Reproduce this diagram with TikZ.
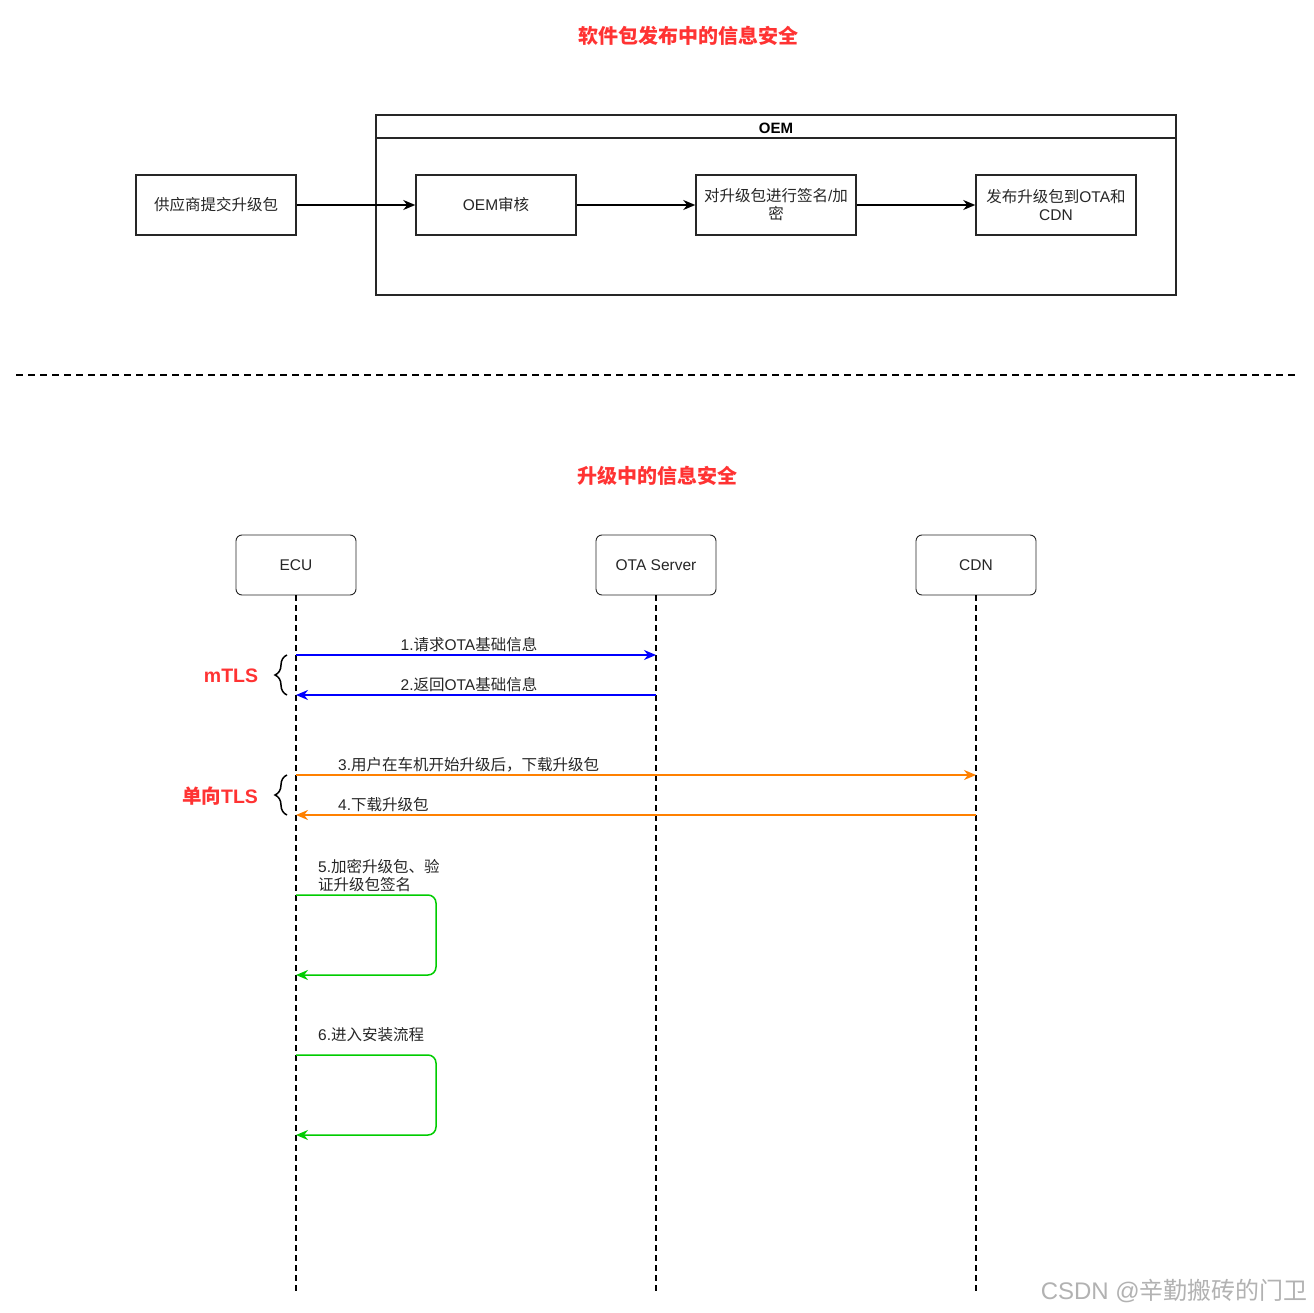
\documentclass[tikz,border=0pt]{standalone}
\usepackage{fontspec}
\setmainfont{Liberation Sans}
\newfontfamily\cjk{Noto Sans CJK SC}
\usetikzlibrary{arrows.meta,decorations.pathreplacing}
\definecolor{tred}{HTML}{FF3333}
\definecolor{mblue}{HTML}{0000FF}
\definecolor{morange}{HTML}{FF8000}
\definecolor{mgreen}{HTML}{00CC00}
\begin{document}
\begin{tikzpicture}[x=1pt,y=-1pt,
  txt/.style={font=\fontsize{15.5}{18}\selectfont, text=black!85},
  procbox/.style={draw=black!85, line width=1.5pt, minimum width=160pt, minimum height=60pt, inner sep=1pt, align=center, txt, text width=156pt},
  lifebox/.style={draw=black!85, line width=0.9pt, rounded corners=6pt, minimum width=120pt, minimum height=60pt, txt},
  flowarrow/.style={line width=1.5pt, draw=black, -{Stealth[length=12pt,width=10pt]}},
  lifeline/.style={line width=1.4pt, dash pattern=on 6pt off 4pt, draw=black},
  msg/.style={line width=1.5pt, -{Stealth[length=12pt,width=10pt]}},
  title/.style={font=\cjk\bfseries\fontsize{20}{24}\selectfont, text=tred},
  tlslabel/.style={font=\bfseries\fontsize{19.5}{23}\selectfont, text=tred},
  mlabel/.style={txt, inner sep=0pt},
  bracestyle/.style={line width=1.5pt, decorate, decoration={brace, amplitude=12pt}}
]
\useasboundingbox (0,0) rectangle (1314,1313);
\fill[white] (0,0) rectangle (1314,1313);

% ---------- top part ----------
\node[title] (t1) at (688,36) {软件包发布中的信息安全};

\draw[black!85, line width=1.5pt] (376,115) rectangle (1176,295);
\draw[black!85, line width=1.5pt] (376,138) -- (1176,138);
\node[font=\bfseries\fontsize{15}{17}\selectfont] (oem) at (776,128) {OEM};

\node[procbox] (sup) at (216,205) {{\cjk 供应商提交升级包}};
\node[procbox] (rev) at (496,205) {OEM{\cjk 审核}};
\node[procbox] (sign) at (776,205) {{\cjk 对升级包进行签名}/{\cjk 加}\\{\cjk 密}};
\node[procbox] (pub) at (1056,205) {{\cjk 发布升级包到}OTA{\cjk 和}\\CDN};

\draw[flowarrow] (sup) -- (rev);
\draw[flowarrow] (rev) -- (sign);
\draw[flowarrow] (sign) -- (pub);

% separator
\coordinate (sepL) at (16,375);
\coordinate (sepR) at (1298,375);
\draw[line width=2pt, dash pattern=on 7pt off 5pt] (sepL) -- (sepR);

% ---------- bottom part ----------
\node[title] (t2) at (657,476) {升级中的信息安全};

\node[lifebox] (ecu) at (296,565) {ECU};
\node[lifebox] (ota) at (656,565) {OTA Server};
\node[lifebox] (cdn) at (976,565) {CDN};

\coordinate (ecuEnd) at (296,1295);
\coordinate (otaEnd) at (656,1295);
\coordinate (cdnEnd) at (976,1295);
\draw[lifeline] (ecu.south) -- (ecuEnd);
\draw[lifeline] (ota.south) -- (otaEnd);
\draw[lifeline] (cdn.south) -- (cdnEnd);

% messages 1,2
\coordinate (e1) at (296,655); \coordinate (o1) at (656,655);
\coordinate (e2) at (296,695); \coordinate (o2) at (656,695);
\draw[msg, mblue] (e1) -- (o1);
\draw[msg, mblue] (o2) -- (e2);
\node[mlabel] (l1) at (469,645) {1.{\cjk 请求}OTA{\cjk 基础信息}};
\node[mlabel] (l2) at (469,685) {2.{\cjk 返回}OTA{\cjk 基础信息}};

% messages 3,4
\coordinate (e3) at (296,775); \coordinate (c3) at (976,775);
\coordinate (e4) at (296,815); \coordinate (c4) at (976,815);
\draw[msg, morange] (e3) -- (c3);
\draw[msg, morange] (c4) -- (e4);
\node[mlabel, anchor=west] (l3) at (338,765) {3.{\cjk 用户在车机开始升级后，下载升级包}};
\node[mlabel, anchor=west] (l4) at (338,805) {4.{\cjk 下载升级包}};

% braces
\coordinate (b1a) at (287,695); \coordinate (b1b) at (287,655);
\coordinate (b2a) at (287,815); \coordinate (b2b) at (287,775);
\draw[bracestyle] (b1a) -- (b1b);
\draw[bracestyle] (b2a) -- (b2b);
\node[tlslabel] (mtls) at (231,676) {mTLS};
\node[tlslabel] (utls) at (220,796) {{\cjk\bfseries 单向}TLS};

% self messages
\coordinate (s5a) at (296,895); \coordinate (s5b) at (436,895);
\coordinate (s5c) at (436,975); \coordinate (s5d) at (296,975);
\draw[msg, mgreen, rounded corners=8pt] (s5a) -- (s5b) -- (s5c) -- (s5d);
\node[mlabel, anchor=west, align=left] (l5) at (318,876) {5.{\cjk 加密升级包、验}\\{\cjk 证升级包签名}};

\coordinate (s6a) at (296,1055); \coordinate (s6b) at (436,1055);
\coordinate (s6c) at (436,1135); \coordinate (s6d) at (296,1135);
\draw[msg, mgreen, rounded corners=8pt] (s6a) -- (s6b) -- (s6c) -- (s6d);
\node[mlabel, anchor=west] (l6) at (318,1035) {6.{\cjk 进入安装流程}};

% watermark
\node[anchor=east, text=black!30, font=\fontsize{24}{27}\selectfont, inner sep=0pt] (wm) at (1308,1291) {CSDN @{\cjk 辛勤搬砖的门卫}};
\end{tikzpicture}
\end{document}
